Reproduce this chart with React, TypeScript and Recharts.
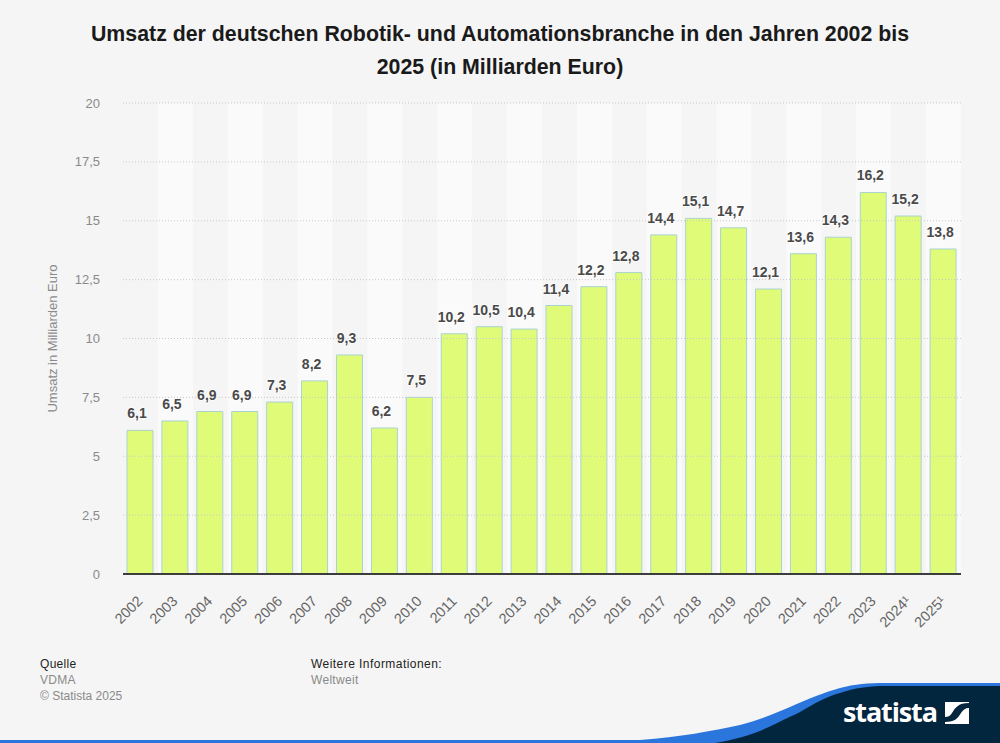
import { Bar, BarChart, LabelList, ReferenceArea, ReferenceLine, XAxis, YAxis } from "recharts";

const years = [
  "2002", "2003", "2004", "2005", "2006", "2007", "2008", "2009", "2010", "2011", "2012", "2013",
  "2014", "2015", "2016", "2017", "2018", "2019", "2020", "2021", "2022", "2023", "2024¹", "2025¹",
];
const revenue = [
  6.1, 6.5, 6.9, 6.9, 7.3, 8.2, 9.3, 6.2, 7.5, 10.2, 10.5, 10.4,
  11.4, 12.2, 12.8, 14.4, 15.1, 14.7, 12.1, 13.6, 14.3, 16.2, 15.2, 13.8,
];
const yTicks = [0, 2.5, 5, 7.5, 10, 12.5, 15, 17.5, 20];
const titleLines = [
  "Umsatz der deutschen Robotik- und Automationsbranche in den Jahren 2002 bis",
  "2025 (in Milliarden Euro)",
];

const data = years.map((year, i) => ({ year, value: revenue[i] }));
const font = '"Liberation Sans", Arial, sans-serif';
const comma = (v: number) => String(v).replace(".", ",");

function YearTick({ x, y, payload }: any) {
  return (
    <text
      x={x + 3}
      y={y + 20}
      transform={`rotate(-45 ${x + 3} ${y + 20})`}
      textAnchor="end"
      fontFamily={font}
      fontSize={14.5}
      fill="#666"
    >
      {payload.value}
    </text>
  );
}

function ValueLabel({ x, y, width, value }: any) {
  return (
    <text
      x={x + width / 2 - 3}
      y={y - 12}
      textAnchor="middle"
      fontFamily={font}
      fontSize={14}
      fontWeight={700}
      fill="#4a4a4a"
      stroke="#fff"
      strokeWidth={2}
      strokeOpacity={0.7}
      paintOrder="stroke"
    >
      {comma(value)}
    </text>
  );
}

function Footer() {
  return (
    <svg width={1000} height={743} style={{ position: "absolute", left: 0, top: 0, pointerEvents: "none" }}>
      <path
        d="M0 740 H640 C680 737 712 731 740 725 C760 720 778 712 790 707 C808 699 825 692 840 688 C855 684 868 683 885 683 H1000 V743 H0 Z"
        fill="#2b76dc"
      />
      <path
        d="M715 743 C738 739 757 733 773 725 C785 719 792 716 800 712 C815 703 828 696 840 693 C855 688 868 686 885 686 H1000 V743 Z"
        fill="#03263f"
      />
      <text x={843} y={722} fontFamily='"Open Sans", sans-serif' fontSize={27} fontWeight={700} fill="#fff" textLength={95}>
        statista
      </text>
      <path
        d="M945 702 H969 V703 C958 703 955 708 952 713 C950 716 948 717 945 717 Z M969 708 V724 H945 V722 C955 722 958 718 961 713 C963 710 965 708 969 708 Z"
        fill="#fff"
      />
    </svg>
  );
}

export default function App() {
  return (
    <div style={{ position: "absolute", left: 0, top: 0, width: 1000, height: 743, background: "#f5f5f5", overflow: "hidden", fontFamily: font }}>
      <div style={{ position: "absolute", left: 0, top: 18, width: 1000, textAlign: "center", fontSize: 21.33, fontWeight: 700, lineHeight: "33px", color: "#1a1a1a" }}>
        {titleLines.map((line) => (
          <div key={line}>{line}</div>
        ))}
      </div>

      <BarChart
        width={1000}
        height={743}
        data={data}
        barSize={26}
        margin={{ top: 103, right: 39, bottom: 109, left: 63 }}
        style={{ position: "absolute", left: 0, top: 0 }}
      >
        {years.map((year, i) =>
          i % 2 === 1 ? (
            <ReferenceArea key={year} x1={year} x2={year} y1={0} y2={20} fill="#fafafa" fillOpacity={1} stroke="none" />
          ) : null
        )}
        {yTicks.slice(1).map((tick) => (
          <ReferenceLine key={tick} y={tick} stroke="#c9c9c9" strokeDasharray="1 2" />
        ))}
        <XAxis
          dataKey="year"
          interval={0}
          height={60}
          tickLine={false}
          tick={<YearTick />}
          axisLine={{ stroke: "#3c3c3c", strokeWidth: 2 }}
        />
        <YAxis
          width={60}
          domain={[0, 20]}
          ticks={yTicks}
          tickFormatter={comma}
          tickLine={false}
          axisLine={false}
          tickSize={0}
          tickMargin={23}
          tick={{ fontFamily: font, fontSize: 13, fill: "#8a8a8a" }}
          label={{
            value: "Umsatz in Milliarden Euro",
            angle: -90,
            position: "insideLeft",
            dx: -16,
            dy: 0,
            style: { fontFamily: font, fontSize: 13, fill: "#8a8a8a", textAnchor: "middle" },
          }}
        />
        <Bar dataKey="value" fill="#e0fb78" stroke="#a9d3d0" strokeWidth={1} isAnimationActive={false}>
          <LabelList dataKey="value" content={<ValueLabel />} />
        </Bar>
      </BarChart>

      <Footer />

      <div style={{ position: "absolute", left: 40, top: 656, fontSize: 12, lineHeight: "16px", letterSpacing: 0.3, color: "#8a8a8a" }}>
        <div style={{ color: "#222" }}>Quelle</div>
        <div>VDMA</div>
        <div style={{ letterSpacing: 0 }}>© Statista 2025</div>
      </div>
      <div style={{ position: "absolute", left: 311, top: 656, fontSize: 12, lineHeight: "16px", letterSpacing: 0.3, color: "#8a8a8a" }}>
        <div style={{ color: "#222", letterSpacing: 0.45 }}>Weitere Informationen:</div>
        <div>Weltweit</div>
      </div>
    </div>
  );
}
